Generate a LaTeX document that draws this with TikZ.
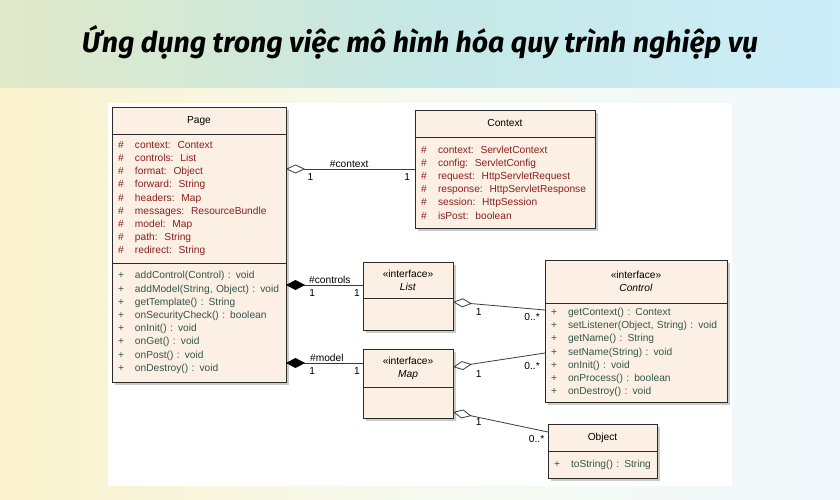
\documentclass[tikz,border=0pt]{standalone}
\usepackage{fontspec}
\setmainfont{Liberation Sans}
\newfontfamily\titlefont{Fira Sans}
\usetikzlibrary{shapes,arrows,arrows.meta,shadows}
\usetikzlibrary{positioning,calc}

\definecolor{boxfill}{HTML}{FBF0E3}
\definecolor{boxline}{HTML}{2B2B2B}
\definecolor{attrred}{HTML}{8A2020}
\definecolor{opgreen}{HTML}{33564A}
\definecolor{linegray}{HTML}{3C3C3C}
\definecolor{bandleft}{HTML}{E1E9C8}
\definecolor{bandmid}{HTML}{C5E8E5}
\definecolor{bandright}{HTML}{CCEDF9}
\definecolor{paleleft}{HTML}{FAF2CC}
\definecolor{palemid}{HTML}{F6FAF0}
\definecolor{paleright}{HTML}{F2F9FD}

\newcommand{\attrline}[1]{\makebox[17pt][l]{\#}#1}
\newcommand{\opline}[1]{\makebox[17pt][l]{+}#1}

\begin{document}
\begin{tikzpicture}[x=1pt, y=-1pt, >=latex', font=\fontsize{10.2}{13.2}\selectfont]

%local definitions
\tikzstyle{umlname} = [draw=boxline, fill=boxfill, rectangle, outer sep=0pt, inner xsep=6pt, inner ysep=2pt, align=center, drop shadow={shadow xshift=3pt, shadow yshift=-3pt, fill=black!40}]
\tikzstyle{umlattr} = [umlname, align=left, text=attrred]
\tikzstyle{umlops} = [umlname, align=left, text=opgreen]
\tikzstyle{aggr} = [draw=linegray, line width=0.8pt, {Diamond[open, length=19pt, width=9pt]}-]
\tikzstyle{comp} = [draw=linegray, line width=0.8pt, {Diamond[length=19pt, width=10pt, color=black]}-]
\tikzstyle{lbl} = [inner sep=1pt, text=black]

%background
\useasboundingbox (0,0) rectangle (840,500);
\shade[left color=paleleft, right color=paleright, middle color=palemid] (0,88) rectangle (840,500);
\shade[left color=bandleft, right color=bandright, middle color=bandmid] (0,0) rectangle (840,88);
\fill[white] (108,103) rectangle (732,486);

\node[font=\titlefont\bfseries\itshape\fontsize{28.5}{32}\selectfont, anchor=base] (title) at (420,53) {Ứng dụng trong việc mô hình hóa quy trình nghiệp vụ};

%classes
	\node [umlname, anchor=north west, text width=162pt, minimum height=27pt] (pagename) at (112,107) {\strut Page};
	\node [umlattr, below=0pt of pagename, text width=162pt, minimum height=129pt] (pageattr) {\attrline{context:\ \ Context}\\ \attrline{controls:\ \ List}\\ \attrline{format:\ \ Object}\\ \attrline{forward:\ \ String}\\ \attrline{headers:\ \ Map}\\ \attrline{messages:\ \ ResourceBundle}\\ \attrline{model:\ \ Map}\\ \attrline{path:\ \ String}\\ \attrline{redirect:\ \ String}};
	\node [umlops, below=0pt of pageattr, text width=162pt, minimum height=119pt] (pageops) {\opline{addControl(Control) : void}\\ \opline{addModel(String, Object) : void}\\ \opline{getTemplate() : String}\\ \opline{onSecurityCheck() : boolean}\\ \opline{onInit() : void}\\ \opline{onGet() : void}\\ \opline{onPost() : void}\\ \opline{onDestroy() : void}};

	\node [umlname, anchor=north west, text width=168pt, minimum height=27pt] (ctxname) at (415,110) {\strut Context};
	\node [umlattr, below=0pt of ctxname, text width=168pt, minimum height=91pt] (ctxattr) {\attrline{context:\ \ ServletContext}\\ \attrline{config:\ \ ServletConfig}\\ \attrline{request:\ \ HttpServletRequest}\\ \attrline{response:\ \ HttpServletResponse}\\ \attrline{session:\ \ HttpSession}\\ \attrline{isPost:\ \ boolean}};

	\node [umlname, anchor=north west, text width=78pt, minimum height=36pt] (listname) at (363,262) {«interface»\\ \textit{List}};
	\node [umlops, below=0pt of listname, text width=78pt, minimum height=32pt] (listops) {};

	\node [umlname, anchor=north west, text width=78pt, minimum height=38pt] (mapname) at (363,349) {«interface»\\ \textit{Map}};
	\node [umlops, below=0pt of mapname, text width=78pt, minimum height=31pt] (mapops) {};

	\node [umlname, anchor=north west, text width=170pt, minimum height=43pt] (ctrlname) at (545,260) {«interface»\\ \textit{Control}};
	\node [umlops, below=0pt of ctrlname, text width=170pt, minimum height=99pt] (ctrlops) {\opline{getContext() : Context}\\ \opline{setListener(Object, String) : void}\\ \opline{getName() : String}\\ \opline{setName(String) : void}\\ \opline{onInit() : void}\\ \opline{onProcess() : boolean}\\ \opline{onDestroy() : void}};

	\node [umlname, anchor=north west, text width=97pt, minimum height=27pt] (objname) at (548,424) {\strut Object};
	\node [umlops, below=0pt of objname, text width=97pt, minimum height=27pt] (objops) {\opline{toString() : String}};

%connections
	\coordinate (contextend) at ([yshift=-32pt]ctxattr.north west);
	\coordinate (controlsend) at ([yshift=-23pt]listname.north west);
	\coordinate (modelend) at ([yshift=-14pt]mapname.north west);

	\draw [aggr] (contextend -| pageattr.east) -- node[lbl, above, pos=0.49]{\#context} node[lbl, below=3pt, pos=0.19]{1} node[lbl, below=3pt, pos=0.94]{1} (contextend);
	\draw [comp] (controlsend -| pageops.east) -- node[lbl, above, pos=0.57]{\#controls} node[lbl, below=3pt, pos=0.34]{1} node[lbl, below=3pt, pos=0.92]{1} (controlsend);
	\draw [comp] (modelend -| pageops.east) -- node[lbl, above, pos=0.53]{\#model} node[lbl, below=3pt, pos=0.34]{1} node[lbl, below=3pt, pos=0.92]{1} (modelend);

	\draw [aggr] ([yshift=-4pt]listops.north east) -- node[lbl, below=3pt, pos=0.28]{1} node[lbl, below=3pt, pos=0.86]{0..*} ([yshift=-7pt]ctrlops.north west);
	\draw [aggr] ([yshift=-18pt]mapname.north east) -- node[lbl, below=6pt, pos=0.28]{1} node[lbl, below=6pt, pos=0.86]{0..*} ([yshift=-50pt]ctrlops.north west);
	\draw [aggr] ([yshift=-25pt]mapops.north east) -- node[lbl, below=0pt, pos=0.27]{1} node[lbl, below=4pt, pos=0.88]{0..*} ([yshift=-8pt]objname.north west);

\end{tikzpicture}
\end{document}
